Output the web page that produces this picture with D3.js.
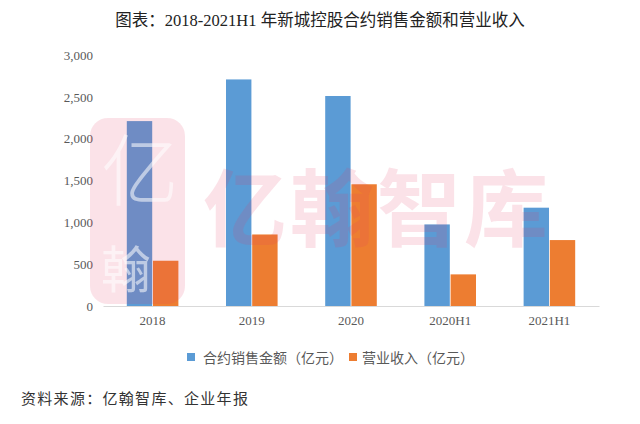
<!DOCTYPE html>
<html>
<head>
<meta charset="utf-8">
<script src="https://cdn.jsdelivr.net/npm/d3@7"></script>
<style>
  html, body { margin: 0; padding: 0; background: #fff; }
  svg { display: block; }
</style>
</head>
<body>
<div id="chart"></div>
<script>
const categories = ["2018", "2019", "2020", "2020H1", "2021H1"];
const seriesNames = ["合约销售金额（亿元）", "营业收入（亿元）"];
const salesValues = [2210, 2708, 2510, 975, 1175];
const revenueValues = [541, 855, 1455, 378, 788];
const yTicks = [0, 500, 1000, 1500, 2000, 2500, 3000];
const titleText = "图表：2018-2021H1 年新城控股合约销售金额和营业收入";
const sourceText = "资料来源：亿翰智库、企业年报";
const watermarkText = "亿翰智库";

const colors = ["#5B9BD5", "#ED7D31"];
const W = 640, H = 424;
const serif = "'Liberation Serif', 'Noto Sans CJK SC', serif";
const cjk = "'Noto Sans CJK SC', sans-serif";

const svg = d3.select("#chart").append("svg").attr("width", W).attr("height", H);
svg.append("rect").attr("width", W).attr("height", H).attr("fill", "#fff");

const data = categories.map((c, i) => ({ cat: c, values: [salesValues[i], revenueValues[i]] }));

const x0 = d3.scaleBand().domain(categories).range([103, 599]).paddingInner(0.48).paddingOuter(0.24);
const x1 = d3.scaleBand().domain([0, 1]).range([0, x0.bandwidth()]).paddingInner(0.03);
const y = d3.scaleLinear().domain([0, 3000]).range([306, 55]);

// Title
svg.append("text")
  .attr("x", 320).attr("y", 20)
  .attr("text-anchor", "middle").attr("dominant-baseline", "central")
  .attr("font-family", serif).attr("font-size", 16.5).attr("fill", "#222")
  .text(titleText);

// Y axis labels
const yAxis = d3.axisLeft(y).tickValues(yTicks).tickSize(0).tickPadding(0)
  .tickFormat(d3.format(","));
const gy = svg.append("g").attr("transform", "translate(93,0)").call(yAxis);
gy.select(".domain").remove();
gy.selectAll("text").attr("font-family", serif).attr("font-size", 13).attr("fill", "#595959");

// Bars
const groups = svg.append("g").selectAll("g").data(data).join("g")
  .attr("transform", d => `translate(${x0(d.cat)},0)`);
groups.selectAll("rect").data(d => d.values.map((v, k) => ({ k, v }))).join("rect")
  .attr("x", d => x1(d.k))
  .attr("width", x1.bandwidth())
  .attr("y", d => y(d.v))
  .attr("height", d => y(0) - y(d.v))
  .attr("fill", d => colors[d.k]);

// X axis
const xAxis = d3.axisBottom(x0).tickSize(0).tickPadding(10);
const gx = svg.append("g").attr("transform", `translate(0,${y(0)})`).call(xAxis);
gx.select(".domain").attr("stroke", "#d9d9d9").attr("stroke-width", 1);
gx.selectAll("text").attr("font-family", serif).attr("font-size", 13).attr("fill", "#595959");

// Watermark logo (semi-transparent stamp)
const wm = svg.append("g").attr("pointer-events", "none");
wm.append("rect")
  .attr("x", 90).attr("y", 118).attr("width", 95).attr("height", 186).attr("rx", 18)
  .attr("fill", "rgba(230,60,100,0.15)");
wm.append("text")
  .attr("x", 140).attr("y", 200).attr("text-anchor", "middle")
  .attr("font-family", cjk).attr("font-size", 78).attr("font-weight", 300)
  .attr("fill", "rgba(255,255,255,0.55)")
  .text("亿");
wm.append("text")
  .attr("x", 126).attr("y", 288).attr("text-anchor", "middle")
  .attr("font-family", cjk).attr("font-size", 50)
  .attr("fill", "rgba(255,255,255,0.55)")
  .text("翰");
wm.append("text")
  .attr("x", 203).attr("y", 240)
  .attr("font-family", cjk).attr("font-size", 84).attr("font-weight", 700)
  .attr("letter-spacing", 3)
  .attr("fill", "rgba(230,60,100,0.15)")
  .text(watermarkText);

// Legend
const legend = svg.append("g");
const legendItems = [{ x: 187, tx: 203 }, { x: 349, tx: 362 }];
legendItems.forEach((p, i) => {
  legend.append("rect").attr("x", p.x).attr("y", 353).attr("width", 8).attr("height", 8).attr("fill", colors[i]);
  legend.append("text").attr("x", p.tx).attr("y", 357)
    .attr("dominant-baseline", "central")
    .attr("font-family", cjk).attr("font-size", 14).attr("fill", "#595959")
    .text(seriesNames[i]);
});

// Source
svg.append("text")
  .attr("x", 21).attr("y", 397)
  .attr("dominant-baseline", "central")
  .attr("font-family", cjk).attr("font-size", 15).attr("letter-spacing", 1.3).attr("fill", "#333")
  .text(sourceText);
</script>
</body>
</html>
